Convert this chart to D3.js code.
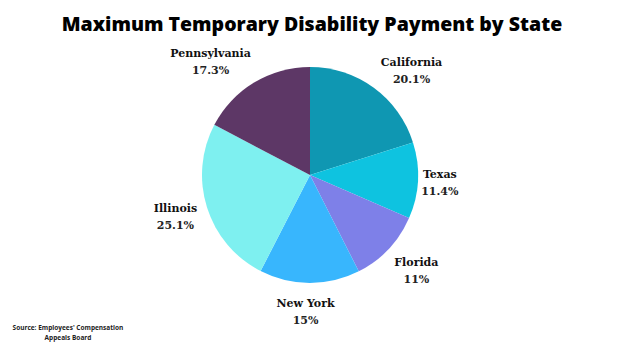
<!DOCTYPE html>
<html>
<head>
<meta charset="utf-8">
<script src="https://cdn.jsdelivr.net/npm/d3@7"></script>
<style>
  body { margin: 0; background: #fff; }
  svg { display: block; }
</style>
</head>
<body>
<div id="chart"></div>
<script>
// data
const states = ["California", "Texas", "Florida", "New York", "Illinois", "Pennsylvania"];
const shares = [20.1, 11.4, 11, 15, 25.1, 17.3];
const pctLabels = ["20.1%", "11.4%", "11%", "15%", "25.1%", "17.3%"];
const colors = ["#0f97b2", "#0ec3e0", "#7e80e8", "#38b6fd", "#7ef0f0", "#5d3766"];

const width = 624, height = 351;
const cx = 310, cy = 175, radius = 108;

const svg = d3.select("#chart").append("svg")
  .attr("width", width)
  .attr("height", height);

svg.append("text")
  .attr("x", 312)
  .attr("y", 31)
  .attr("text-anchor", "middle")
  .attr("font-family", "'Open Sans', sans-serif")
  .attr("font-weight", 800)
  .attr("font-size", 19.5)
  .attr("fill", "#000")
  .text("Maximum Temporary Disability Payment by State");

const data = states.map((s, i) => ({state: s, value: shares[i], label: pctLabels[i], color: colors[i]}));

const pie = d3.pie().sort(null).value(d => d.value);
const arc = d3.arc().innerRadius(0).outerRadius(radius);
const labelArc = d3.arc().innerRadius(138).outerRadius(138);

const g = svg.append("g").attr("transform", `translate(${cx},${cy})`);
const arcs = pie(data);

g.selectAll("path")
  .data(arcs)
  .join("path")
  .attr("d", arc)
  .attr("fill", d => d.data.color);

// small nudges so labels sit where the original has them
const nudge = {
  "California": [20, 6], "Texas": [-8, 0], "Florida": [6, 0],
  "New York": [-4, -2], "Illinois": [-3, -1], "Pennsylvania": [-28, 4]
};

const labels = g.selectAll("g.lbl")
  .data(arcs)
  .join("g")
  .attr("class", "lbl")
  .attr("transform", d => {
    const [x, y] = labelArc.centroid(d);
    const n = nudge[d.data.state] || [0, 0];
    return `translate(${x + n[0]},${y + n[1]})`;
  });

labels.append("text")
  .attr("text-anchor", "middle")
  .attr("y", -4)
  .attr("font-family", "'DejaVu Serif', serif")
  .attr("font-weight", "bold")
  .attr("font-size", 11)
  .attr("fill", "#111")
  .text(d => d.data.state);

labels.append("text")
  .attr("text-anchor", "middle")
  .attr("y", 13)
  .attr("font-family", "'DejaVu Serif', serif")
  .attr("font-weight", "bold")
  .attr("font-size", 11)
  .attr("fill", "#222")
  .text(d => d.data.label);

const src = svg.append("text")
  .attr("font-family", "'Open Sans', sans-serif")
  .attr("font-weight", 700)
  .attr("font-size", 6.5)
  .attr("fill", "#222")
  .attr("text-anchor", "middle");
src.append("tspan").attr("x", 68).attr("y", 330).text("Source: Employees' Compensation");
src.append("tspan").attr("x", 68).attr("y", 340).text("Appeals Board");
</script>
</body>
</html>
